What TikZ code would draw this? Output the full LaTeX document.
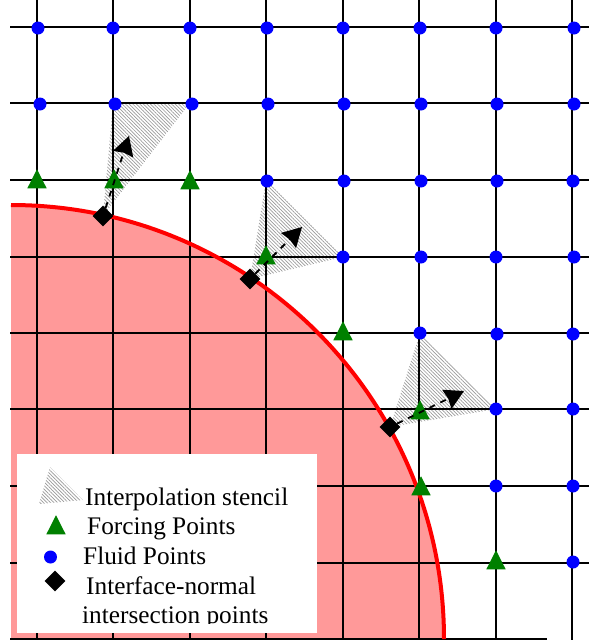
\documentclass[tikz,border=0pt]{standalone}
\usepackage{fontspec}
\setmainfont{Liberation Serif}
\usetikzlibrary{arrows.meta,positioning,calc,patterns.meta,shapes.geometric}
\definecolor{fluidblue}{RGB}{0,0,255}
\definecolor{forcegreen}{RGB}{0,128,0}
\definecolor{solidpink}{RGB}{255,153,153}
\tikzset{
    fluidpt/.style={circle, fill=fluidblue, inner sep=0pt, minimum size=13pt},
    forcept/.style={regular polygon, regular polygon sides=3, fill=forcegreen, inner sep=0pt, minimum size=25.5pt, xscale=0.88, transform shape},
    normalpt/.style={diamond, fill=black, inner sep=0pt, minimum size=21pt},
    stencil/.style={pattern={Lines[angle=-45, distance=2.5pt, line width=0.7pt]}, pattern color=black!40},
    normalarrow/.style={-{Stealth[length=19pt, width=21pt, inset=1.5pt]}, line width=1.8pt, dash pattern=on 6pt off 6pt},
    gridline/.style={black, line width=1.5pt},
    legendtext/.style={anchor=base west, inner sep=0pt, font=\fontsize{25.3pt}{28pt}\selectfont}
}
\begin{document}
\begin{tikzpicture}[x=1pt, y=-1pt]
    \useasboundingbox (0,0) rectangle (589,643);

    % Solid body
    \fill[solidpink] (11,205) arc[start angle=90, end angle=0, x radius=433pt, y radius=434pt] -- (11,639) -- cycle;

    % Interface-normal intersection points and arrow ends
    \coordinate (n1) at (103,216);
    \coordinate (n2) at (250,279);
    \coordinate (n3) at (390,427);
    \coordinate (e1) at (129,136);
    \coordinate (e2) at (302,227);
    \coordinate (e3) at (464,391);

    % Interpolation stencils
    \fill[stencil] (n1) -- (113,103) -- (190,103) -- cycle;
    \fill[stencil] (n2) -- (266,180) -- (343,257) -- cycle;
    \fill[stencil] (n3) -- (420,333) -- (496,409) -- cycle;

    % Grid
    \foreach \gx in {37,113,190,266,343,419,496,572}
        \draw[gridline] (\gx,0) -- (\gx,640);
    \foreach \gy in {27,103,180,257,333,409,486,563}
        \draw[gridline] (10,\gy) -- (589,\gy);
    \draw[gridline] (10,639) -- (547,639);

    % Interface
    \draw[red, line width=4pt] (11,205) arc[start angle=90, end angle=0, x radius=433pt, y radius=434pt];

    % Fluid points
    \foreach \px/\py [count=\n] in {38/28,113/28,190/28,267/28,343/28,420/28,496/28,574/28,
        40/104,115/104,192/104,268/104,344/104,421/104,497/104,574/104,
        267/181,344/181,421/181,497/181,573/181,
        343/257,421/257,496/257,574/257,
        420/333,497/334,573/334,
        496/409,573/409,
        496/486,573/486,
        573/562}
        \node[fluidpt] (f\n) at (\px,\py) {};

    % Forcing points
    \foreach \px/\py [count=\n] in {37/182,114/182,190/183,266/258,343/334,420/413,421/489,496/563}
        \node[forcept] (g\n) at (\px,\py) {};

    % Normal arrows
    \node[normalpt] (m1) at (n1) {};
    \node[normalpt] (m2) at (n2) {};
    \node[normalpt] (m3) at (n3) {};
    \draw[normalarrow] (m1) -- (e1);
    \draw[normalarrow] (m2) -- (e2);
    \draw[normalarrow] (m3) -- (e3);

    % Legend
    \fill[white] (17,454) rectangle (317,633);
    \fill[stencil] (50,467) -- (83,500) -- (39,504) -- cycle;
    \node[forcept] (lg) at (56,528) {};
    \node[fluidpt] (lf) at (50.5,557) {};
    \node[normalpt] (ln) at (55,581) {};
    \node[legendtext] (t1) at (85,505) {Interpolation stencil};
    \node[legendtext] (t2) at (87,534) {Forcing Points};
    \node[legendtext] (t3) at (83,564) {Fluid Points};
    \node[legendtext] (t4) at (86,594) {Interface-normal};
    \node[legendtext] (t5) at (82,623) {intersection points};
    \fill[white] (80,623.5) rectangle (300,633);
\end{tikzpicture}
\end{document}
